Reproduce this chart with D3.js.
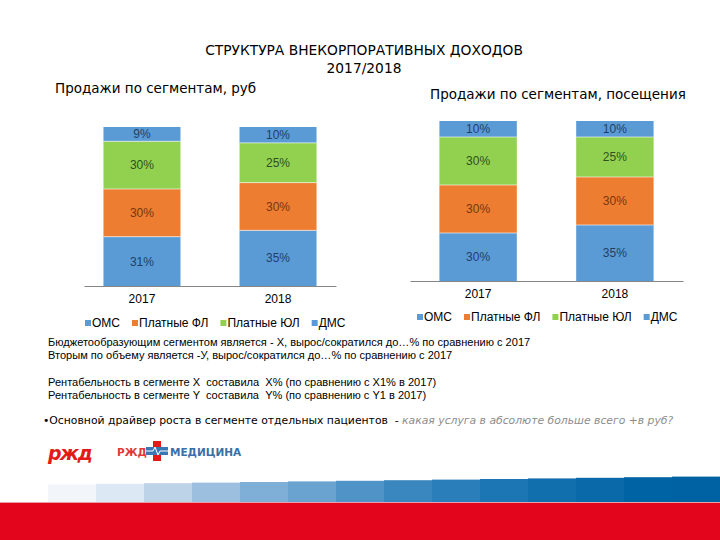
<!DOCTYPE html>
<html><head><meta charset="utf-8">
<script src="https://cdn.jsdelivr.net/npm/d3@7/dist/d3.min.js"></script>
<style>body{margin:0;background:#fff}svg{display:block}text{white-space:pre}</style>
</head><body>
<script>
const years = ["2017", "2018"];
const segments = ["ОМС", "Платные ФЛ", "Платные ЮЛ", "ДМС"];
// Sales by segment, rub (%)
const rubOMS = [31, 35];
const rubFL  = [30, 30];
const rubUL  = [30, 25];
const rubDMS = [9, 10];
// Sales by segment, visits (%)
const visOMS = [30, 35];
const visFL  = [30, 30];
const visUL  = [30, 25];
const visDMS = [10, 10];

const colors = ["#5B9BD5", "#ED7D31", "#92D050", "#5B9BD5"];
const labelColors = ["#1F3F66", "#7A3510", "#2F5020", "#1F3F66"];

const W = 720, H = 540;
const svg = d3.select("body").append("svg").attr("width", W).attr("height", H);

// Bottom decorative bands
const bandStops = ["#FFFFFF", "#F2F6FA", "#DCE8F3", "#BCD3E8", "#9DBFDF", "#7FAFD6", "#6AA3CF", "#4F93C7", "#3A87C0", "#2A7EBA", "#1C76B4", "#126FAE", "#0A69A9", "#0064A4", "#0062A2"];
const bandW = W / bandStops.length;
svg.append("rect").attr("x", 0).attr("y", 476).attr("width", W).attr("height", 26).attr("fill", "#FFFFFF");
bandStops.forEach((c, i) => {
  const x0 = i * bandW;
  const top = 485 - 9 * x0 / W;
  svg.append("rect").attr("x", x0).attr("y", top).attr("width", bandW + 1).attr("height", 502 - top).attr("fill", c);
});
svg.append("rect").attr("x", 0).attr("y", 502).attr("width", W).attr("height", 1).attr("fill", "#E9A0A8");
svg.append("rect").attr("x", 0).attr("y", 503).attr("width", W).attr("height", 37).attr("fill", "#E3051B");

// Titles
const titleFont = "DejaVu Sans, Verdana, sans-serif";
svg.append("text").attr("x", 364).attr("y", 55).attr("text-anchor","middle")
  .style("font-family", titleFont).style("font-size","13.8px").attr("fill","#000")
  .text("СТРУКТУРА ВНЕКОРПОРАТИВНЫХ ДОХОДОВ");
svg.append("text").attr("x", 364).attr("y", 73).attr("text-anchor","middle")
  .style("font-family", titleFont).style("font-size","13.8px").attr("fill","#000")
  .text("2017/2018");

function chart(cfg) {
  const rows = years.map((y, i) => ({
    year: y,
    "ОМС": cfg.vals[0][i], "Платные ФЛ": cfg.vals[1][i],
    "Платные ЮЛ": cfg.vals[2][i], "ДМС": cfg.vals[3][i]
  }));
  const stack = d3.stack().keys(segments)(rows);
  const x = d3.scaleBand().domain(years).range(cfg.xr).paddingInner(0.434).paddingOuter(cfg.po);
  const y = d3.scaleLinear().domain([0, 100]).range(cfg.yr);
  const g = svg.append("g");

  svg.append("text").attr("x", cfg.subX).attr("y", cfg.subY)
    .style("font-family", titleFont).style("font-size", "13.5px").attr("fill", "#000")
    .text(cfg.subtitle);

  stack.forEach((layer, li) => {
    g.selectAll(null).data(layer).join("rect")
      .attr("x", d => x(d.data.year))
      .attr("width", x.bandwidth())
      .attr("y", d => y(d[1]))
      .attr("height", d => y(d[0]) - y(d[1]))
      .attr("fill", colors[li]);
  });
  stack.forEach((layer, li) => {
    if (li === 0) return;
    g.selectAll(null).data(layer).join("line")
      .attr("x1", d => x(d.data.year)).attr("x2", d => x(d.data.year) + x.bandwidth())
      .attr("y1", d => y(d[0])).attr("y2", d => y(d[0]))
      .attr("stroke", "#ffffff").attr("stroke-width", 0.6);
  });
  stack.forEach((layer, li) => {
    g.selectAll(null).data(layer).join("text")
      .attr("x", d => x(d.data.year) + x.bandwidth() / 2)
      .attr("y", d => (y(d[0]) + y(d[1])) / 2)
      .attr("dy", "0.36em")
      .attr("text-anchor", "middle")
      .style("font-family", "Liberation Sans, Arial, sans-serif").style("font-size", "12px")
      .attr("fill", labelColors[li])
      .text(d => (d[1] - d[0]) + "%");
  });

  const ax = g.append("g").attr("transform", `translate(0,${cfg.yr[0]})`)
    .call(d3.axisBottom(x).tickSize(0).tickPadding(8));
  ax.select(".domain").attr("stroke", "#868686").attr("stroke-width", 1);
  ax.selectAll("text").style("font-family", "Liberation Sans, Arial, sans-serif")
    .style("font-size", "12px").attr("fill", "#000");

  const lg = g.append("g").attr("transform", `translate(${cfg.legX},${cfg.legY})`);
  let cx = 0;
  segments.forEach((s, i) => {
    lg.append("rect").attr("x", cx).attr("y", -7).attr("width", 6).attr("height", 6).attr("fill", colors[i]);
    const t = lg.append("text").attr("x", cx + 7).attr("y", 0)
      .style("font-family", "Liberation Sans, Arial, sans-serif").style("font-size", "12px")
      .attr("fill", "#000").text(s);
    cx += 7 + t.node().getComputedTextLength() + cfg.legGap;
  });
}

chart({
  vals: [rubOMS, rubFL, rubUL, rubDMS],
  xr: [84, 336], po: 0.143, yr: [286, 127],
  subtitle: "Продажи по сегментам, руб", subX: 55, subY: 93,
  legX: 85, legY: 327, legGap: 12
});
chart({
  vals: [visOMS, visFL, visUL, visDMS],
  xr: [410, 683], po: 0.215, yr: [281, 121],
  subtitle: "Продажи по сегментам, посещения", subX: 430, subY: 99,
  legX: 417, legY: 321, legGap: 12
});

// Text block
const txtFont = "Liberation Sans, Arial, sans-serif";
const lines = [
  [48, 346, "Бюджетообразующим сегментом является - X, вырос/сократился до…% по сравнению с 2017"],
  [48, 359, "Вторым по объему является -У, вырос/сократился до…% по сравнению с 2017"],
  [48, 386, "Рентабельность в сегменте X  составила  X% (по сравнению с X1% в 2017)"],
  [48, 399, "Рентабельность в сегменте Y  составила  Y% (по сравнению с Y1 в 2017)"]
];
lines.forEach(l => svg.append("text").attr("x", l[0]).attr("y", l[1])
  .style("font-family", txtFont).style("font-size", "11.05px").attr("fill", "#000").text(l[2]));

const bl = svg.append("text").attr("x", 43).attr("y", 424)
  .style("font-family", titleFont).style("font-size", "10.8px").attr("fill", "#000");
bl.append("tspan").text("•Основной драйвер роста в сегменте отдельных пациентов  - ");
bl.append("tspan").attr("fill", "#8C8C8C").style("font-style", "italic")
  .text("какая услуга в абсолюте больше всего +в руб?");

// Logos
svg.append("text").attr("x", 48).attr("y", 460)
  .style("font-family", "DejaVu Sans, sans-serif").style("font-size", "19px")
  .style("font-weight", "bold").style("font-style", "italic").attr("fill", "#E21A1A")
  .style("letter-spacing", "-1.5px").text("ржд");
svg.append("text").attr("x", 117).attr("y", 456)
  .style("font-family", "DejaVu Sans, sans-serif").style("font-size", "10.5px")
  .style("font-weight", "bold").attr("fill", "#E03A3A").text("РЖД");
const cr = svg.append("g").attr("transform", "translate(157,451)");
cr.append("rect").attr("x", -4).attr("y", -10).attr("width", 8).attr("height", 20).attr("fill", "#E21A1A");
cr.append("rect").attr("x", -11).attr("y", -4).attr("width", 22).attr("height", 8).attr("fill", "#3A78B5");
cr.append("path").attr("d", "M-11,0 L-4,0 L-2,-4 L1,4 L3,0 L11,0").attr("fill", "none").attr("stroke", "#fff").attr("stroke-width", 1);
svg.append("text").attr("x", 170).attr("y", 456)
  .style("font-family", "DejaVu Sans, sans-serif").style("font-size", "10.5px")
  .style("font-weight", "bold").attr("fill", "#3A6FA8").text("МЕДИЦИНА");
</script>
</body></html>
